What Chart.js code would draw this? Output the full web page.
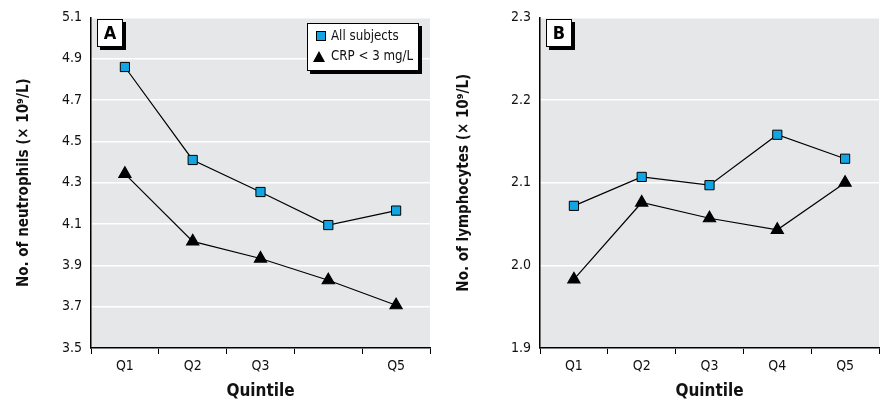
<!DOCTYPE html>
<html>
<head>
<meta charset="utf-8">
<script src="https://cdn.jsdelivr.net/npm/chart.js@4.4.0/dist/chart.umd.min.js"></script>
<style>
  body { margin: 0; background: #fff; font-family: 'DejaVu Sans', sans-serif; font-stretch: condensed; }
  #wrap { position: relative; width: 880px; height: 404px; }
  .panel { position: absolute; top: 0; width: 440px; height: 404px; }
  .tag { position: absolute; top: 19px; width: 24px; height: 26px; background: #fff; border: 1px solid #000;
         box-shadow: 3px 3px 0 #000; font-weight: bold; font-size: 18px; text-align: center; line-height: 26px; }
  .legend { position: absolute; left: 307px; top: 23px; width: 110px; height: 46px; background: #fff;
            border: 1px solid #000; box-shadow: 3px 3px 0 #000; font-size: 13.2px; color: #111; }
  .legend div { position: absolute; left: 23px; white-space: nowrap; }
  .sq { position: absolute; left: 8px; top: 7px; width: 8px; height: 8px; background: #12a5e3; border: 1px solid #000; }
  .tri { position: absolute; left: 5px; top: 27px; width: 0; height: 0; border-left: 6px solid transparent;
         border-right: 6px solid transparent; border-bottom: 11px solid #000; }
</style>
</head>
<body>
<div id="wrap">
  <div class="panel" style="left:0"><canvas id="chartA" width="440" height="404"></canvas></div>
  <div class="panel" style="left:440px"><canvas id="chartB" width="440" height="404"></canvas></div>
  <div class="tag" style="left:97px">A</div>
  <div class="tag" style="left:546px">B</div>
  <div class="legend">
    <span class="sq"></span><div style="top:4px">All subjects</div>
    <span class="tri"></span><div style="top:24px">CRP &lt; 3 mg/L</div>
  </div>
</div>
<script>
// categories
var quintiles = ["Q1", "Q2", "Q3", "Q4", "Q5"];
var tickLabelsA = ["Q1", "Q2", "Q3", "", "Q5"];   // Q4 label is missing in panel A
var tickLabelsB = ["Q1", "Q2", "Q3", "Q4", "Q5"];

// panel A - neutrophils
var neutroAll = [4.86, 4.41, 4.255, 4.095, 4.165];
var neutroCrp = [4.343, 4.016, 3.933, 3.828, 3.707];
// panel B - lymphocytes
var lymphoAll = [2.072, 2.107, 2.097, 2.158, 2.129];
var lymphoCrp = [1.983, 2.076, 2.057, 2.043, 2.1];

var FONT = "'DejaVu Sans Condensed', 'DejaVu Sans', sans-serif";

// gray plot area
var plotBg = {
    id: 'plotBg',
    beforeDraw: function(chart) {
        var a = chart.chartArea, ctx = chart.ctx;
        ctx.save();
        ctx.fillStyle = '#e6e7e8';
        ctx.fillRect(a.left, a.top, a.right - a.left, a.bottom - a.top);
        ctx.restore();
    }
};

function makeChart(id, labels, allData, crpData, yMin, yMax, yStep, yTitle, yWidth, padRight) {
    var ctx = document.getElementById(id).getContext('2d');
    return new Chart(ctx, {
        type: 'line',
        data: {
            labels: quintiles,
            datasets: [{
                label: 'All subjects',
                data: allData,
                borderColor: '#000',
                borderWidth: 1.2,
                pointStyle: 'rect',
                pointRadius: 6.5,
                pointBackgroundColor: '#12a5e3',
                pointBorderColor: '#000',
                pointBorderWidth: 1
            }, {
                label: 'CRP < 3 mg/L',
                data: crpData,
                borderColor: '#000',
                borderWidth: 1.2,
                pointStyle: 'triangle',
                pointRadius: 7,
                pointBackgroundColor: '#000',
                pointBorderColor: '#000'
            }]
        },
        options: {
            responsive: false,
            animation: false,
            layout: { autoPadding: false, padding: { left: 0, right: padRight, top: 15, bottom: 0 } },
            plugins: { legend: { display: false }, tooltip: { enabled: false } },
            scales: {
                x: {
                    offset: true,
                    grid: { offset: true, drawOnChartArea: false, drawTicks: true, tickLength: 6, color: '#000' },
                    border: { color: '#000', width: 1.5 },
                    ticks: {
                        color: '#111', font: { family: FONT, size: 14 }, padding: 4,
                        callback: function(v, i) { return labels[i]; }
                    },
                    title: { display: true, text: 'Quintile', color: '#111',
                             font: { family: FONT, size: 17, weight: 'bold' }, padding: { top: 0, bottom: 2 } },
                    afterFit: function(s) { s.height = 56; }
                },
                y: {
                    min: yMin, max: yMax,
                    grid: { color: '#fff', lineWidth: 1.5, drawTicks: false },
                    border: { color: '#000', width: 1.5 },
                    ticks: { stepSize: yStep, color: '#111', font: { family: FONT, size: 14 }, padding: 9,
                             callback: function(v) { return v.toFixed(1); } },
                    title: { display: true, text: yTitle, color: '#111',
                             font: { family: FONT, size: 15, weight: 'bold' }, padding: { top: 15, bottom: 0 } },
                    afterFit: function(s) { s.width = yWidth; }
                }
            }
        },
        plugins: [plotBg]
    });
}

makeChart('chartA', tickLabelsA, neutroAll, neutroCrp, 3.5, 5.1, 0.2, 'No. of neutrophils (\u00d7 10\u2079/L)', 91, 10);
makeChart('chartB', tickLabelsB, lymphoAll, lymphoCrp, 1.9, 2.3, 0.1, 'No. of lymphocytes (\u00d7 10\u2079/L)', 100, 1);
</script>
</body>
</html>
